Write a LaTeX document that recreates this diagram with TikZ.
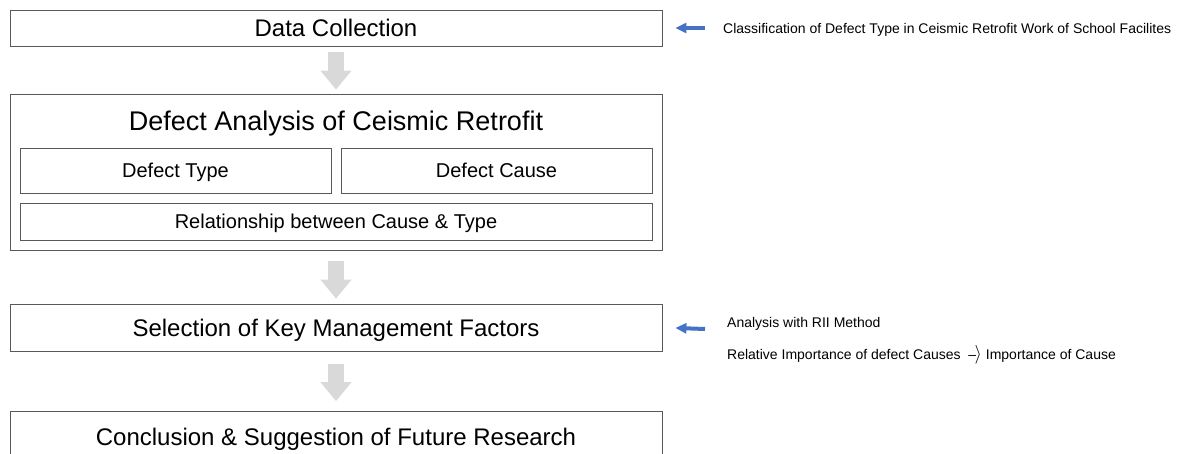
\documentclass[tikz,border=0pt]{standalone}
\usepackage{fontspec}
\setmainfont{Liberation Sans}
\usetikzlibrary{arrows.meta,positioning,calc}
\definecolor{noteblue}{HTML}{4472C4}

\begin{document}
\begin{tikzpicture}[x=1pt, y=-1pt,
  stage/.style={draw=black!65, line width=0.8pt, minimum width=652pt, inner sep=0pt,
    text height=21.6pt, text depth=4.3pt, font=\fontsize{24}{28}\selectfont},
  subbox/.style={draw=black!65, line width=0.8pt, inner sep=0pt,
    text height=18pt, text depth=3.6pt, font=\fontsize{20}{24}\selectfont},
  flow/.style={line width=16pt, draw=gray!30, -{Triangle[width=30pt,length=19pt]}},
  note/.style={anchor=west, inner sep=0pt, text height=12.6pt, text depth=2.5pt,
    font=\fontsize{14}{16}\selectfont},
  hint/.style={line width=4pt, draw=noteblue, -{Triangle[width=10pt,length=11pt]}}]
  \useasboundingbox (0,0) rectangle (1180,454);
  \clip (0,0) rectangle (1180,454);

  %% Stages
  \node[stage, minimum height=36pt] (dc) at (336,28) {Data Collection};
  \node[stage, minimum height=156pt] (da) at (336,172) {};
  \node[font=\fontsize{27}{31}\selectfont, inner sep=0pt, text height=24.3pt, text depth=4.9pt]
    (dat) at (336,121) {Defect Analysis of Ceismic Retrofit};
  \node[subbox, minimum width=311pt, minimum height=45pt] (dt) at (175.5,170.5) {Defect Type};
  \node[subbox, minimum width=311pt, minimum height=45pt] (dcs) at (496.5,170.5) {Defect Cause};
  \node[subbox, minimum width=632pt, minimum height=37pt] (rel) at (336,221.5)
    {Relationship between Cause \& Type};
  \node[stage, minimum height=47pt] (sk) at (336,327.5) {Selection of Key Management Factors};
  \node[stage, minimum height=50pt] (cs) at (336,436.5) {Conclusion \& Suggestion of Future Research};

  %% Flow arrows
  \draw[flow, shorten <=6pt, shorten >=4pt] (dc) -- (da);
  \draw[flow, shorten <=11pt, shorten >=5pt] (da) -- (sk);
  \draw[flow, shorten <=13pt, shorten >=10pt] (sk) -- (cs);

  %% Side notes
  \coordinate (tail1) at (705,28);
  \node[note, right=18pt of tail1] (n1)
    {Classification of Defect Type in Ceismic Retrofit Work of School Facilites};
  \draw[hint, shorten >=13pt] (tail1) -- (dc.east);

  \coordinate (tail2) at (705,329);
  \node[note] (n2a) at (727,322) {Analysis with RII Method};
  \node[note] (n2b) at (727,354)
    {Relative Importance of defect Causes\ \ \textendash\kern-1.5pt\scalebox{1.3}{$\rangle$} Importance of Cause};
  \draw[hint, shorten >=13pt] (tail2) -- (sk.east);
\end{tikzpicture}
\end{document}
